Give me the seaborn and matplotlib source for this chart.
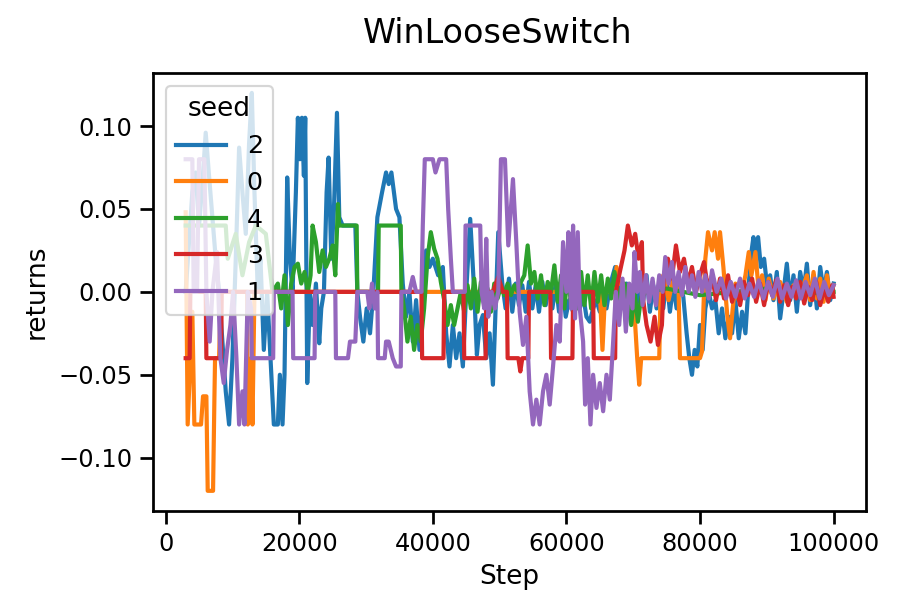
import pandas as pd
import matplotlib
matplotlib.use("Agg")
import matplotlib.pyplot as plt
import seaborn as sns

# digitised runs, one list pair per seed (order = order of appearance)
steps_2 = [3000, 3500, 4000, 4500, 5000, 5500, 6000, 6500, 7000, 7500, 8000, 8500, 9000, 9500,
           10000, 10500, 11000, 11500, 12000, 12500, 12900, 13300, 13800, 14200, 14700, 15200,
           15700, 16200, 16800, 17100, 17500, 17800, 18200, 18600, 19000, 19500, 19800, 20100,
           20400, 20700, 20900, 21200, 21600, 22000, 22500, 23000, 23300, 23700, 24100, 24400,
           24800, 25200, 25650, 26000, 26500, 28400, 28700, 29100, 29600, 30100, 30600, 31100,
           31700, 32400, 33000, 33400, 33800, 34500, 35000, 35500, 36000, 36500, 37000, 37500,
           38000, 38500, 39000, 39500, 40000, 40800, 41500, 42000, 42500, 43000, 43500, 44000,
           44500, 45000, 45600, 46200, 46600, 47000, 47500, 48000, 48500, 49000, 49800, 50400,
           50900, 51400, 51900, 52400, 52900, 53400, 53900, 54400, 54900, 55400, 55900, 56400,
           56900, 57400, 57900, 58400, 58900, 59400, 59900, 60400, 61000, 61500, 62000, 62500,
           63000, 63500, 64000, 64500, 65000, 65500, 66000, 66600, 67300, 67800, 68500, 69000,
           69500, 70000, 70500, 71000, 71500, 72000, 72500, 73000, 73500, 74000, 74500, 75000,
           75500, 76000, 76500, 77000, 77500, 78000, 78400, 78800, 79200, 79600, 80000, 80400,
           80800, 81300, 81800, 82300, 82800, 83300, 83800, 84300, 84800, 85300, 85800, 86300,
           86800, 87200, 87700, 88000, 88300, 88700, 89100, 89600, 90000, 90500, 91000, 91500,
           92000, 92500, 93000, 93500, 94000, 94500, 95000, 95500, 96000, 96500, 97000, 97500,
           98000, 98500, 99000, 99500, 100000]
returns_2 = [0.0, 0.03, 0.06, 0.072, 0.04, 0.065, 0.096, 0.07, 0.045, 0.02, 0.0, -0.03, -0.06, -0.08,
             -0.04, 0.02, 0.087, 0.06, 0.035, 0.09, 0.12, 0.06, 0.0, 0.02, -0.035, 0.0,
             -0.04, -0.08, -0.08, -0.05, -0.08, -0.05, 0.069, 0.02, 0.0, 0.06, 0.105, 0.08,
             0.105, 0.07, 0.105, -0.055, 0.0, -0.02, 0.005, -0.031, -0.01, 0.0, 0.06, 0.081,
             0.02, 0.05, 0.108, 0.045, 0.04, 0.04, 0.0, -0.015, -0.03, -0.01, -0.025, 0.0,
             0.045, 0.06, 0.072, 0.065, 0.072, 0.05, 0.045, 0.005, -0.015, 0.0, -0.03, -0.005,
             -0.035, 0.0, 0.025, 0.015, 0.02, 0.01, 0.015, -0.025, -0.045, -0.02, -0.04, -0.025,
             -0.045, 0.0, 0.044, 0.0, -0.038, -0.02, -0.014, -0.04, -0.025, -0.056, 0.036, 0.005,
             -0.01, 0.008, -0.012, 0.005, -0.008, 0.004, -0.012, 0.006, -0.01, 0.004, -0.012, 0.006,
             -0.008, 0.004, -0.01, 0.005, -0.012, 0.004, -0.015, -0.005, -0.012, 0.0, -0.01, -0.002,
             -0.015, -0.018, -0.01, -0.005, -0.012, 0.0, -0.01, 0.005, 0.015, 0.005, -0.005, 0.005,
             -0.01, 0.0, -0.008, 0.005, -0.005, 0.01, -0.012, 0.004, -0.01, 0.006, -0.01, 0.008,
             -0.012, 0.004, -0.01, 0.005, -0.003, -0.025, -0.04, -0.05, -0.035, -0.045, -0.02, -0.035,
             -0.01, 0.0, -0.01, -0.005, -0.025, -0.01, -0.028, -0.015, -0.025, -0.005, -0.028, -0.012,
             -0.025, 0.0, 0.024, 0.033, 0.02, 0.033, 0.015, 0.02, 0.005, 0.01, -0.005, 0.012,
             -0.016, 0.0, 0.017, -0.005, 0.01, -0.012, 0.012, 0.0, 0.017, -0.008, 0.01, -0.01,
             0.015, 0.0, 0.012, -0.005, 0.005]

steps_0 = [3000, 3300, 4000, 4300, 5300, 5600, 6100, 6300, 7100, 7300, 7400, 8000, 8300, 12200,
           12300, 12800, 13000, 13300, 65000, 65400, 65800, 67300, 67500, 68000, 70000, 70600,
           70900, 71200, 73900, 74100, 74500, 75300, 76000, 76800, 77000, 80000, 80300, 80600,
           80800, 81200, 81800, 82200, 82700, 83000, 83500, 83800, 84100, 84500, 84900, 85300,
           85800, 86300, 86800, 87300, 87700, 88300, 88800, 89300, 89800, 90300, 91000, 92000,
           93000, 94000, 95000, 96000, 96500, 97000, 97500, 98000, 98500, 99000, 99500, 100000]
returns_0 = [0.048, -0.08, -0.012, -0.08, -0.08, -0.063, -0.063, -0.12, -0.12, -0.065, -0.04, -0.04, 0.0, 0.0,
             -0.08, -0.04, -0.08, 0.0, 0.0, -0.035, 0.0, 0.0, 0.015, 0.005, 0.0, -0.04,
             -0.056, -0.04, -0.04, 0.0, 0.01, -0.005, 0.008, 0.0, -0.04, -0.04, -0.036, 0.0,
             0.02, 0.036, 0.025, 0.036, 0.02, 0.036, 0.015, 0.0, -0.015, -0.028, -0.01, 0.005,
             -0.005, 0.0, 0.01, 0.024, 0.01, 0.024, 0.0, 0.01, -0.005, 0.008, -0.004, 0.006,
             -0.006, 0.004, -0.002, 0.01, -0.005, 0.012, -0.004, 0.008, -0.006, 0.01, -0.002, 0.004]

steps_4 = [3000, 9000, 9300, 10500, 11500, 12500, 13500, 15000, 16000, 16800, 17300, 17800, 18300,
           18800, 19300, 19800, 20300, 20800, 21300, 21700, 22000, 22500, 23000, 23500, 24000,
           24500, 25000, 25400, 25800, 26000, 28600, 28700, 31800, 31900, 35200, 35300, 35700,
           36200, 36700, 37200, 37700, 38200, 38700, 39200, 39700, 40200, 40700, 41200, 41700,
           42200, 42700, 43200, 43700, 44200, 44700, 45200, 45700, 46200, 46700, 47200, 47700,
           48200, 48700, 49200, 49700, 50200, 50700, 51200, 51700, 52200, 52700, 53200, 53700,
           54200, 54700, 55200, 55700, 56200, 56700, 57200, 57700, 58200, 58700, 59200, 59700,
           60200, 60700, 61200, 61700, 62200, 62700, 63200, 63700, 64200, 64700, 65200, 65700,
           66200, 66700, 67200, 67700, 68200, 68700, 69200, 69700, 70200, 70700, 71200, 72000,
           75000, 80000, 85000, 90000, 95000, 100000]
returns_4 = [0.04, 0.04, 0.02, 0.035, 0.01, 0.03, 0.04, 0.035, 0.0, 0.005, -0.01, 0.01, -0.02,
             0.005, 0.015, 0.017, 0.005, 0.012, 0.0, 0.01, 0.04, 0.03, 0.012, 0.025, 0.015,
             0.02, 0.028, 0.01, 0.053, 0.04, 0.04, 0.0, 0.0, 0.04, 0.04, 0.0, -0.01,
             -0.03, -0.015, -0.035, -0.02, -0.03, -0.01, 0.02, 0.036, 0.026, 0.02, 0.006, -0.005,
             -0.02, -0.008, -0.02, -0.01, 0.0, -0.012, 0.004, -0.01, 0.008, -0.012, 0.006, -0.008,
             0.002, -0.012, 0.005, -0.004, 0.004, -0.002, 0.005, -0.002, 0.004, 0.0, 0.006, 0.01,
             0.028, 0.005, 0.012, -0.004, 0.01, -0.008, 0.006, 0.0, 0.016, -0.006, 0.01, -0.01,
             0.012, -0.008, 0.01, -0.01, 0.012, -0.008, 0.01, -0.01, 0.012, -0.006, 0.01, -0.008,
             0.008, -0.004, 0.012, 0.0, -0.01, 0.005, -0.005, -0.02, 0.0, -0.018, -0.003, 0.0,
             0.002, -0.002, 0.0, 0.002, -0.001, 0.0]

steps_3 = [3000, 3600, 3700, 6000, 6100, 8300, 8400, 38300, 38400, 41600, 41700, 44600, 44700,
           47900, 48000, 49000, 49800, 50500, 51100, 51200, 52800, 53100, 53400, 54300, 54400,
           57600, 57700, 60900, 61000, 64000, 64100, 67300, 67400, 68000, 68700, 69200, 69800,
           70300, 70800, 71300, 71500, 72000, 72600, 73200, 73700, 74300, 74600, 75200, 75800,
           76400, 77000, 77600, 78200, 78800, 79400, 80000, 80600, 81200, 81800, 82400, 83000,
           83600, 84200, 84800, 85400, 86000, 86600, 87200, 87800, 88400, 89000, 89600, 90200,
           90800, 91400, 92000, 92600, 93200, 93800, 94400, 95000, 95600, 96200, 96800, 97400,
           98000, 98600, 99200, 99800, 100000]
returns_3 = [-0.04, -0.04, 0.0, 0.0, -0.04, -0.04, 0.0, 0.0, -0.04, -0.04, 0.0, 0.0, -0.04,
             -0.04, 0.0, 0.0, 0.009, 0.0, 0.0, -0.04, -0.04, -0.048, -0.04, -0.04, 0.0,
             0.0, -0.04, -0.04, 0.0, 0.0, -0.04, -0.04, 0.0, 0.012, 0.025, 0.04, 0.028,
             0.035, 0.02, 0.03, -0.005, -0.02, -0.03, -0.015, -0.032, -0.02, 0.01, 0.02, 0.008,
             0.028, 0.012, 0.02, 0.005, 0.015, 0.0, 0.01, 0.018, 0.002, 0.01, -0.005, 0.008,
             -0.004, 0.01, -0.006, 0.004, -0.008, 0.006, -0.002, 0.008, -0.006, 0.005, -0.008, 0.006,
             -0.002, 0.007, -0.006, 0.004, -0.008, 0.003, -0.004, 0.006, -0.007, 0.003, -0.005, 0.006,
             -0.008, 0.002, -0.006, 0.004, -0.003]

steps_1 = [3000, 4000, 4200, 4700, 5000, 5800, 6100, 6600, 7000, 7700, 8200, 8700, 9200, 9700,
           10100, 10600, 11000, 11500, 11800, 12300, 12800, 12900, 16100, 16200, 19000, 19100,
           22300, 22400, 25400, 25500, 27300, 27600, 28400, 28700, 30200, 30500, 30900, 31300,
           31700, 31800, 32800, 33000, 33400, 34000, 34500, 35200, 35300, 36500, 37000, 37500,
           38300, 38500, 38800, 40000, 40400, 41000, 42000, 42300, 42700, 43000, 44800, 44900,
           47100, 47300, 47700, 48000, 48300, 48800, 49300, 49800, 50200, 50800, 51300, 52000,
           52500, 53000, 53500, 54000, 54500, 55000, 55500, 56000, 56500, 57000, 57500, 58000,
           58500, 59000, 59500, 60000, 60300, 60700, 61000, 61300, 61700, 62000, 62500, 62800,
           63200, 63600, 64000, 64500, 65000, 65500, 66000, 66500, 67000, 67400, 67900, 68400,
           68900, 69400, 69900, 70200, 70600, 71000, 71400, 71900, 72400, 72900, 73400, 73900,
           74400, 74800, 75300, 75800, 76300, 76800, 77300, 77800, 78300, 78800, 79300, 79800,
           80300, 80800, 81300, 81800, 82500, 83200, 83900, 84600, 85300, 86000, 86700, 87400,
           88100, 88800, 89500, 90200, 90900, 91600, 92300, 93000, 93700, 94400, 95100, 95800,
           96500, 97200, 97900, 98600, 99300, 100000]
returns_1 = [0.08, 0.08, 0.0, 0.0, 0.08, 0.08, 0.0, -0.03, 0.0, 0.024, -0.04, -0.055, -0.035, -0.02,
             0.0, -0.04, -0.08, -0.06, -0.08, 0.0, -0.01, -0.04, -0.04, 0.0, 0.0, -0.04,
             -0.04, 0.0, 0.0, -0.04, -0.04, -0.03, -0.03, 0.0, 0.0, -0.01, 0.005, -0.01,
             0.0, -0.04, -0.04, -0.03, -0.03, -0.04, -0.045, -0.045, 0.0, 0.0, 0.009, 0.0,
             0.0, 0.04, 0.08, 0.08, 0.072, 0.08, 0.08, 0.05, 0.02, 0.0, 0.0, 0.04,
             0.04, 0.0, -0.01, 0.032, -0.015, 0.0, -0.01, 0.0, 0.08, 0.08, 0.028, 0.068,
             0.03, -0.012, -0.032, -0.015, -0.06, -0.08, -0.065, -0.08, -0.06, -0.05, -0.068, -0.045,
             -0.02, -0.03, 0.03, 0.0, 0.036, -0.01, 0.04, -0.016, 0.036, -0.01, -0.03, -0.068,
             -0.04, -0.08, -0.05, -0.07, -0.055, -0.072, -0.05, -0.065, -0.03, 0.0, -0.02, 0.008,
             -0.024, 0.005, -0.01, 0.024, 0.0, 0.012, -0.008, 0.01, -0.006, 0.008, -0.008, 0.01,
             0.0, 0.021, 0.005, 0.018, 0.0, 0.012, -0.002, 0.015, 0.0, 0.01, -0.003, 0.012,
             0.0, 0.01, -0.004, 0.013, 0.0, 0.008, -0.004, 0.006, -0.003, 0.008, -0.004, 0.005,
             -0.003, 0.007, -0.004, 0.006, -0.003, 0.008, -0.004, 0.005, -0.003, 0.007, -0.004, 0.006,
             -0.002, 0.008, -0.004, 0.006, -0.002, 0.004]

seed_order = ["2", "0", "4", "3", "1"]
runs = {
    "2": (steps_2, returns_2),
    "0": (steps_0, returns_0),
    "4": (steps_4, returns_4),
    "3": (steps_3, returns_3),
    "1": (steps_1, returns_1),
}

frames = []
for seed in seed_order:
    s, r = runs[seed]
    frames.append(pd.DataFrame({"Step": s, "returns": r, "seed": seed}))
df = pd.concat(frames, ignore_index=True)

sns.set_context("notebook", rc={"lines.linewidth": 1.9, "legend.fontsize": 11.5})

fig = plt.figure(figsize=(900 / 158, 612 / 158), dpi=158)
ax = fig.add_axes([0.1703, 0.1655, 0.7919, 0.7152])
sns.lineplot(data=df, x="Step", y="returns", hue="seed", hue_order=seed_order,
             estimator=None, ax=ax)
sns.move_legend(ax, "upper left", title="seed")
fig.suptitle("WinLooseSwitch", x=0.553, y=0.973, fontsize=15.2)

fig.savefig("out.png", dpi=158)
